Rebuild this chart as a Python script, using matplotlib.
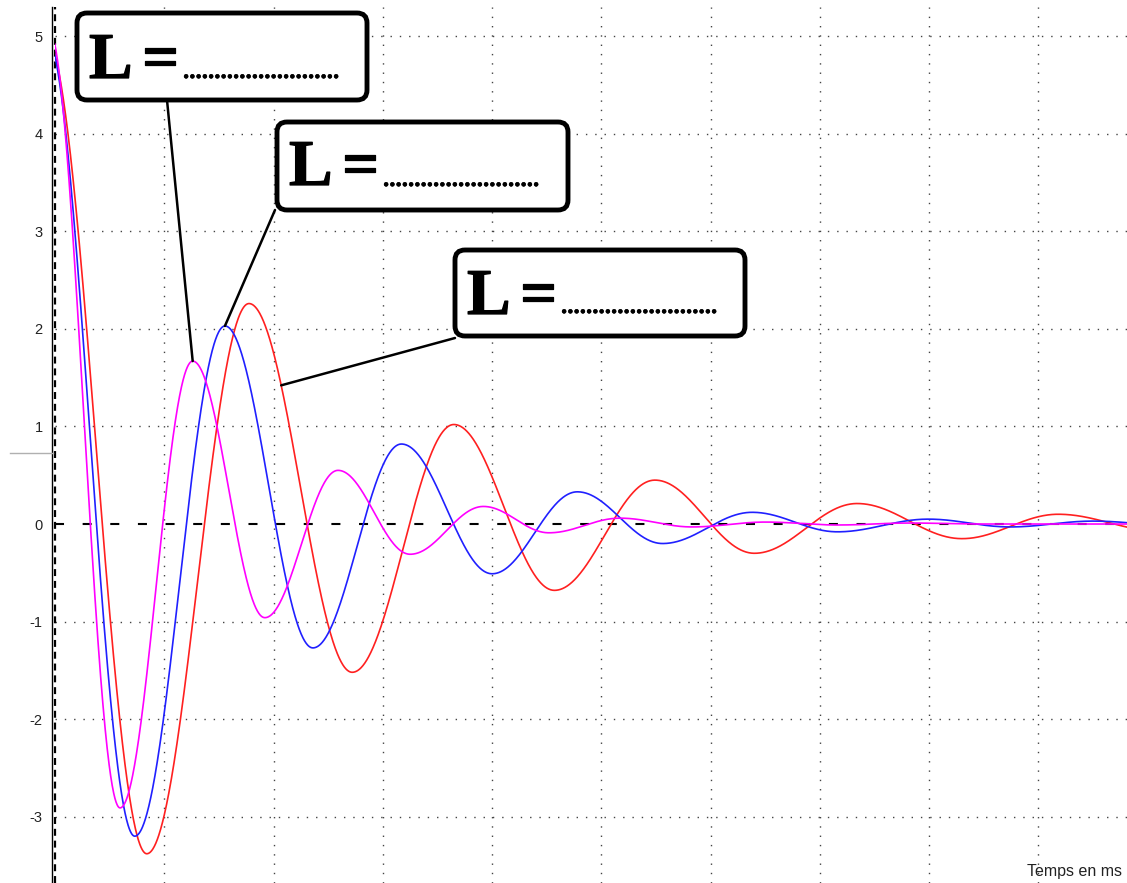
import numpy as np
import matplotlib
matplotlib.use("Agg")
import matplotlib.pyplot as plt
import matplotlib.patheffects as pe
from matplotlib.patches import FancyBboxPatch
from matplotlib.lines import Line2D
from matplotlib.transforms import IdentityTransform

# extrema (time in ms, tension in V) of the three damped oscillations
t_mag = [-0.065, 0.595, 1.26, 1.92, 2.59, 3.25, 3.92, 4.52, 5.17, 5.83, 6.50, 7.16, 7.82, 8.50, 10.5]
v_mag = [5.10, -2.91, 1.67, -0.96, 0.55, -0.31, 0.18, -0.09, 0.06, -0.03, 0.02, -0.01, 0.01, 0.0, 0.0]

t_blue = [-0.09, 0.73, 1.555, 2.36, 3.17, 4.00, 4.78, 5.56, 6.38, 7.16, 7.99, 8.74, 9.50, 10.3]
v_blue = [5.04, -3.20, 2.03, -1.27, 0.82, -0.51, 0.33, -0.20, 0.12, -0.08, 0.05, -0.03, 0.03, -0.02]

t_red = [-0.09, 0.84, 1.775, 2.72, 3.65, 4.57, 5.49, 6.40, 7.34, 8.30, 9.18, 10.1]
v_red = [5.00, -3.38, 2.26, -1.52, 1.02, -0.68, 0.45, -0.30, 0.21, -0.15, 0.10, -0.07]

y_ticks = [-3, -2, -1, 0, 1, 2, 3, 4, 5]
x_grid = [1, 2, 3, 4, 5, 6, 7, 8, 9]
t_red_mark = 2.07

W, H = 1127, 883

plt.rcParams["axes.unicode_minus"] = False
plt.rcParams["lines.scale_dashes"] = False


def trace(tp, vp):
    # half-cosine arcs between successive extrema
    t = np.linspace(tp[0], tp[-1], 3000)
    v = np.zeros_like(t)
    for i in range(len(tp) - 1):
        m = (t >= tp[i]) & (t <= tp[i + 1])
        ph = np.pi * (t[m] - tp[i]) / (tp[i + 1] - tp[i])
        v[m] = (vp[i] + vp[i + 1]) / 2 + (vp[i] - vp[i + 1]) / 2 * np.cos(ph)
    return t, v


fig = plt.figure(figsize=(W / 100, H / 100), dpi=100)
ax = fig.add_axes([55 / W, 0, 1 - 55 / W, 1 - 7 / H])
ax.set_xlim(0, 9.81)
ax.set_ylim(-3.68, 5.30)

for s in ["top", "right", "bottom"]:
    ax.spines[s].set_visible(False)
ax.spines["left"].set_position(("outward", 2))
ax.spines["left"].set_linewidth(1.0)

ax.set_xticks([])
ax.set_yticks(y_ticks)
ax.set_yticklabels([str(v) for v in y_ticks], fontsize=10.5,
                   family="Liberation Sans", color="#222222")
ax.tick_params(axis="y", length=0, pad=7)

# dotted grid, no grid on the zero lines
for v in y_ticks:
    if v != 0:
        ax.axhline(v, color="#444444", lw=1.0, ls=(0, (1, 5.7)), zorder=1)
for x in x_grid:
    ax.axvline(x, color="#444444", lw=1.0, ls=(0, (1, 5.7)), zorder=1)

ax.axhline(0, color="black", lw=1.5, ls=(0, (6.5, 13.4)), zorder=1)
ax.axvline(0, color="black", lw=1.6, ls=(0, (5, 3.5)), zorder=1, clip_on=False)

tr, vr = trace(t_red, v_red)
tb, vb = trace(t_blue, v_blue)
tm, vm = trace(t_mag, v_mag)
ax.plot(tr, vr, color="#ff2020", lw=1.2, zorder=3)
ax.plot(tb, vb, color="#2020ff", lw=1.2, zorder=3)
ax.plot(tm, vm, color="#ff00ff", lw=1.2, zorder=3)

ax.text(1122 / W, 0.004, "Temps en ms", transform=fig.transFigure, ha="right", va="bottom",
        fontsize=11.5, family="Liberation Sans", color="#222222")

# small grey cursor mark left of the axis
fig.add_artist(Line2D([10, 53], [H - 453, H - 453], transform=IdentityTransform(),
                      color="#b0b0b0", lw=1.0))

# callout boxes  (left, top, right, bottom in pixels from top-left)
boxes = [(77, 13, 367, 100), (277, 122, 568, 210), (455, 250, 745, 336)]
labels = [(89, 78, 183, 78), (289, 185, 383, 186), (467, 314, 561, 313)]

red_mark = np.interp(t_red_mark, tr, vr)
targets = [(t_mag[2], v_mag[2]), (t_blue[2], v_blue[2]), (t_red_mark, red_mark)]
starts = [(167, 100), (275, 210), (455, 338)]

for (x0, y0), (tx, ty) in zip(starts, targets):
    ax.annotate("", xy=(tx, ty), xycoords="data", xytext=(x0, H - y0),
                textcoords="figure pixels",
                arrowprops=dict(arrowstyle="-", lw=1.8, color="black",
                                shrinkA=0, shrinkB=0), zorder=4)

heavy = [pe.withStroke(linewidth=0.9, foreground="black")]
dots = [pe.withStroke(linewidth=0.4, foreground="black")]
for (l, t, r, b), (lx, ly, dx, dy) in zip(boxes, labels):
    box = FancyBboxPatch((l, H - b), r - l, b - t, boxstyle="round,pad=0,rounding_size=10",
                         transform=IdentityTransform(), facecolor="white",
                         edgecolor="black", lw=3.5, zorder=5)
    fig.add_artist(box)
    fig.text(lx / W, 1 - ly / H, "L", fontsize=47, family="Liberation Serif",
             weight="bold", ha="left", va="baseline", zorder=6, path_effects=heavy)
    fig.text((lx + 53) / W, 1 - ly / H, "=", fontsize=46, family="Liberation Serif",
             weight="bold", ha="left", va="baseline", zorder=6, path_effects=heavy)
    fig.text(dx / W, 1 - dy / H, "." * 25, fontsize=18, family="Liberation Serif",
             weight="bold", ha="left", va="baseline", zorder=6, path_effects=dots)

fig.savefig("out.png", dpi=100)
